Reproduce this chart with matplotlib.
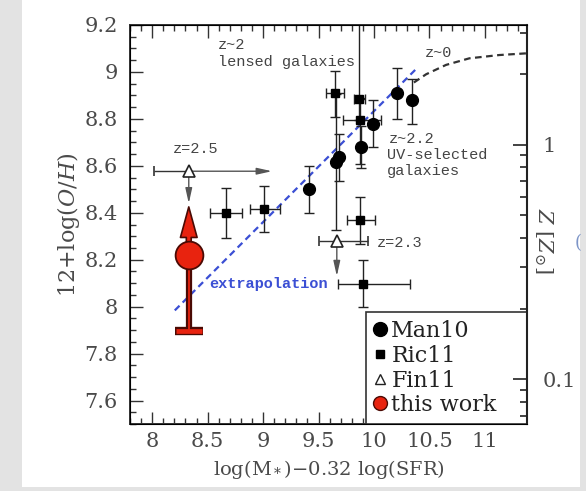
import matplotlib

matplotlib.use("Agg")
import matplotlib.pyplot as plt
import numpy as np
from matplotlib.lines import Line2D
from matplotlib.patches import Rectangle
from matplotlib.ticker import FixedFormatter, FixedLocator, FuncFormatter, MultipleLocator, NullFormatter

# Man10 (filled circles)
man10_x = [9.41, 9.657, 9.684, 9.88, 9.995, 10.205, 10.345]
man10_y = [8.50, 8.615, 8.637, 8.68, 8.78, 8.91, 8.88]
man10_ylo = [0.10, 0.29, 0.10, 0.09, 0.10, 0.11, 0.10]
man10_yhi = [0.10, 0.29, 0.10, 0.09, 0.10, 0.105, 0.09]

# Ric11 (filled squares)
ric11_x = [8.662, 9.006, 9.651, 9.869, 9.875, 9.875, 9.90]
ric11_y = [8.401, 8.416, 8.91, 8.886, 8.797, 8.369, 8.098]
ric11_xlo = [0.14, 0.12, 0.08, 0.05, 0.15, 0.12, 0.22]
ric11_xhi = [0.15, 0.15, 0.08, 0.05, 0.19, 0.13, 0.425]
ric11_ylo = [0.11, 0.10, 0.10, 0.09, 0.19, 0.10, 0.10]
ric11_yhi = [0.105, 0.10, 0.095, 0.35, 0.09, 0.10, 0.10]

# Fin11 (open triangles, limits drawn as arrows)
fin11_x = [8.33, 9.665]
fin11_y = [8.577, 8.28]
fin11_xlo = [0.31, 0.165]
fin11_xhi = [0.0, 0.28]
fin11_xarrow = [9.08, None]
fin11_yarrow = [8.44, 8.13]

# this work
this_x = [8.33]
this_y = [8.22]
this_ylow = [7.895]
this_yup = [8.425]

# relations
extrap_x = [8.204, 10.385]
extrap_y = [7.984, 9.015]
z0_x = [10.36, 10.47, 10.65, 10.86, 11.13, 11.40]
z0_y = [8.955, 8.99, 9.03, 9.058, 9.072, 9.08]

# right axis: Z in solar units
solar_oh = 8.69
z_major = [0.1, 1]
z_minor = [0.07, 0.08, 0.09, 0.2, 0.3, 0.4, 0.5, 0.6, 0.7, 0.8, 0.9, 2, 3]

RED = "#e8230f"
DARK = "#4a0a04"
BLUE = "#3b4fd4"
GRAY = "#4a4a4a"
FRAME = "#333333"

plt.rcParams["font.family"] = "DejaVu Serif"
plt.rcParams["mathtext.fontset"] = "dejavuserif"

fig = plt.figure(figsize=(5.86, 4.91), dpi=100)
fig.patch.set_facecolor("#e3e3e3")
fig.add_artist(Rectangle((22 / 586, 4 / 491), 558 / 586, 487 / 491, transform=fig.transFigure,
                         facecolor="white", edgecolor="none", zorder=-1))
fig.text(578 / 586, 1 - 243 / 491, "(", color="#7d95c8", fontsize=13, ha="center", va="center")

ax = fig.add_axes([130 / 586, 1 - 424 / 491, 397 / 586, 399 / 491])
ax.set_xlim(7.8, 11.38)
ax.set_ylim(7.5, 9.2)

# right axis in solar units
ax2 = ax.twinx()
ax2.set_ylim(ax.get_ylim())
ax2.yaxis.set_major_locator(FixedLocator([solar_oh + np.log10(z) for z in z_major]))
ax2.yaxis.set_major_formatter(FixedFormatter([f"{z:g}" for z in z_major]))
ax2.yaxis.set_minor_locator(FixedLocator([solar_oh + np.log10(z) for z in z_minor]))
ax2.yaxis.set_minor_formatter(NullFormatter())
ax2.yaxis.set_tick_params(which="both", direction="in", color="#222222", width=1.2,
                          labelsize=15, labelcolor=GRAY, pad=11)
ax2.yaxis.set_tick_params(which="major", length=10)
ax2.yaxis.set_tick_params(which="minor", length=5)
ax2.spines["right"].set_color("#222222")
ax2.spines["right"].set_linewidth(1.5)
ax2.set_ylabel(r"$Z$ [$Z_{\odot}$]", fontsize=15, color=GRAY, rotation=270)
ax2.yaxis.set_label_coords(1.07, 0.46)

# relations
ax.plot(extrap_x, extrap_y, color=BLUE, lw=1.6, ls=(0, (3, 2)), zorder=1.5)
ax.plot(z0_x, z0_y, color=FRAME, lw=1.6, ls=(0, (3, 2)), zorder=1.5)

# data
ax.errorbar(man10_x, man10_y, yerr=[man10_ylo, man10_yhi], fmt="o", color="black", ms=8.5,
            ecolor="#222222", elinewidth=1, capsize=3.5, capthick=1)
ax.errorbar(ric11_x, ric11_y, xerr=[ric11_xlo, ric11_xhi], yerr=[ric11_ylo, ric11_yhi], fmt="s",
            color="black", ms=6, ecolor="#222222", elinewidth=1, capsize=3.5, capthick=1)
arrow_style = dict(arrowstyle="-|>,head_length=0.9,head_width=0.2", color="#555555",
                   lw=1, shrinkA=0, shrinkB=0, mutation_scale=10)
for x, y, xa, ya in zip(fin11_x, fin11_y, fin11_xarrow, fin11_yarrow):
    if xa is not None:
        ax.annotate("", xy=(xa, y), xytext=(x, y), zorder=1.8, arrowprops=arrow_style)
    ax.annotate("", xy=(x, ya), xytext=(x, y), zorder=1.8, arrowprops=arrow_style)
ax.errorbar(fin11_x, fin11_y, xerr=[fin11_xlo, fin11_xhi], fmt="^", mfc="white", mec="#222222",
            mew=1.2, ms=9, ecolor=FRAME, elinewidth=1, capsize=3.5, capthick=1)

# this work: stem with bar, arrow upward, big circle
for x, y, yl, yu in zip(this_x, this_y, this_ylow, this_yup):
    ax.annotate("", xy=(x, yu), xytext=(x, y), zorder=2.5,
                arrowprops=dict(arrowstyle="simple,head_length=2.2,head_width=1.2,tail_width=0.35",
                                fc=RED, ec=DARK, lw=1.2, shrinkA=0, shrinkB=0, mutation_scale=10))
    ax.plot([x, x], [yl, y], color=DARK, lw=4.5, marker="_", markevery=[0], ms=20.5, mew=6,
            solid_capstyle="butt", zorder=2.6)
    ax.plot([x, x], [yl, y], color=RED, lw=1.3, marker="_", markevery=[0], ms=18.5, mew=3.4,
            solid_capstyle="butt", zorder=2.7)
ax.plot(this_x, this_y, "o", ms=20, mfc=RED, mec=DARK, mew=1.3, zorder=2.8)

# labels on the plot
mono = dict(family="Liberation Mono", fontsize=11, color="#444444", va="center")
ax.text(8.59, 9.114, "z~2", **mono)
ax.text(8.59, 9.043, "lensed galaxies", **mono)
ax.text(10.46, 9.079, "z~0", **mono)
ax.text(10.13, 8.715, "z~2.2", **mono)
ax.text(10.12, 8.644, "UV-selected", **mono)
ax.text(10.12, 8.577, "galaxies", **mono)
ax.text(8.19, 8.672, "z=2.5", **mono)
ax.text(10.025, 8.273, "z=2.3", **mono)
ax.text(8.512, 8.098, "extrapolation", family="Liberation Mono", fontsize=11, color=BLUE,
        fontweight="bold", va="center")

# main axes
fmt = FuncFormatter(lambda v, p: f"{v:g}")
ax.xaxis.set_major_locator(MultipleLocator(0.5))
ax.xaxis.set_minor_locator(MultipleLocator(0.1))
ax.yaxis.set_major_locator(MultipleLocator(0.2))
ax.yaxis.set_minor_locator(MultipleLocator(0.05))
ax.xaxis.set_major_formatter(fmt)
ax.yaxis.set_major_formatter(fmt)
ax.tick_params(which="both", direction="in", top=True, color=FRAME, width=1,
               labelsize=15, labelcolor=GRAY)
ax.tick_params(which="major", length=9)
ax.tick_params(which="minor", length=4.5)
ax.tick_params(axis="x", pad=6)
ax.tick_params(axis="y", pad=9)
for name in ["left", "top", "bottom"]:
    ax.spines[name].set_color(FRAME)
    ax.spines[name].set_linewidth(1.4)
ax.spines["right"].set_visible(False)

ax.set_xlabel(r"log(M$_*$)$-$0.32 log(SFR)", fontsize=14, color=GRAY)
ax.xaxis.set_label_coords(0.5, -0.085)
ax.set_ylabel(r"12+log($O/H$)", fontsize=16, color=GRAY)
ax.yaxis.set_label_coords(-0.122, 0.5)

# legend (under the right-axis ticks, as in the original)
handles = [
    Line2D([], [], ls="none", marker="o", color="black", ms=10),
    Line2D([], [], ls="none", marker="s", color="black", ms=6),
    Line2D([], [], ls="none", marker="^", mfc="white", mec="#222222", ms=7),
    Line2D([], [], ls="none", marker="o", mfc=RED, mec=DARK, ms=10),
]
labels = ["Man10", "Ric11", "Fin11", "this work"]
leg = ax2.legend(handles, labels, loc="lower left", bbox_to_anchor=(0.594, 0, 0.406, 0.3),
                 mode="expand", borderaxespad=0, fancybox=False, framealpha=1, edgecolor=FRAME,
                 prop=dict(family="DejaVu Serif", size=16), handlelength=0.6, handletextpad=0.2,
                 labelspacing=0.12, borderpad=0.35)
leg.get_frame().set_linewidth(1.2)
leg.set_zorder(1)
for t in leg.get_texts():
    t.set_color("#222222")

fig.savefig("out.png", dpi=100, facecolor=fig.get_facecolor())
plt.close(fig)
